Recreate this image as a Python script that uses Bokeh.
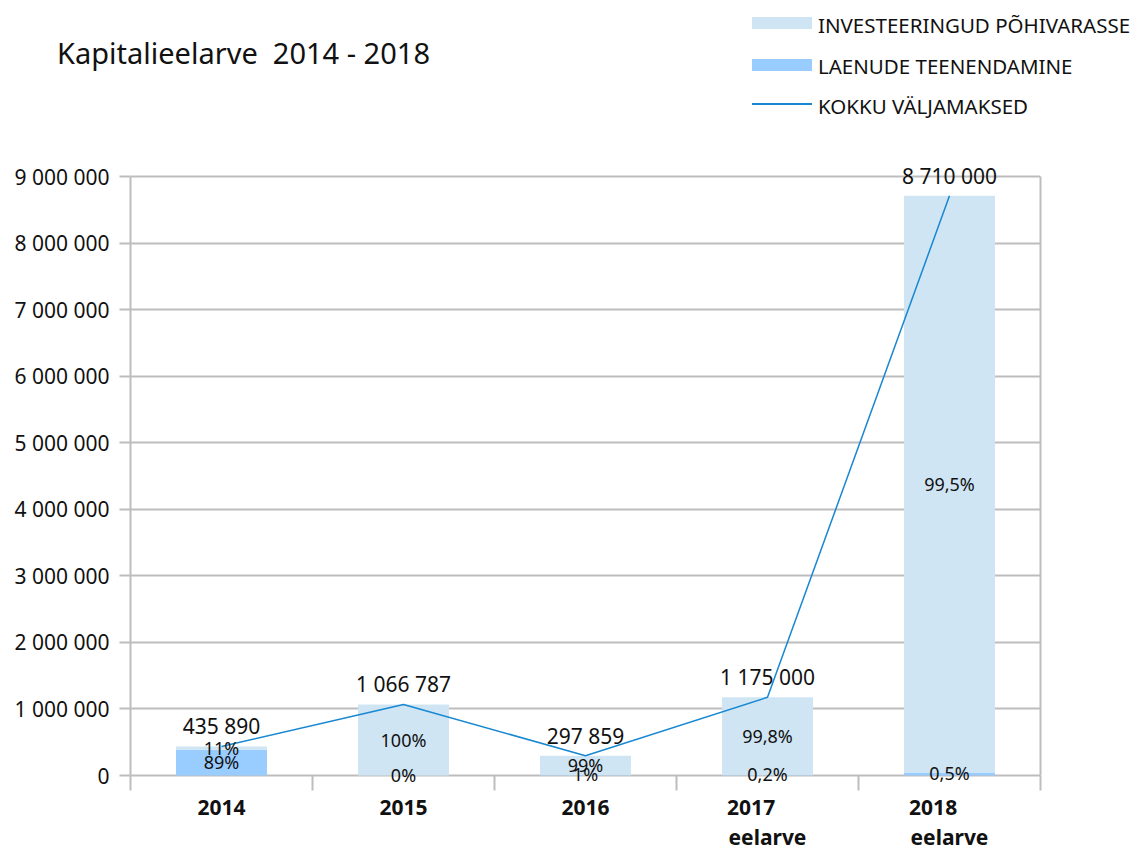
import numpy as np
from bokeh.plotting import figure
from bokeh.layouts import column
from bokeh.models import (Range1d, FixedTicker, ColumnDataSource, LabelSet, LinearAxis, Div)
from bokeh.embed import file_html
from bokeh.resources import INLINE
from bokeh.core.properties import value

# ---------------- data ----------------
title_text = "Kapitalieelarve  2014 - 2018"
categories = ["2014", "2015", "2016", "2017\neelarve", "2018\neelarve"]
totals = [435890, 1066787, 297859, 1175000, 8710000]          # KOKKU VÄLJAMAKSED
loans = [387942, 0, 2979, 2350, 43550]                          # LAENUDE TEENENDAMINE
invest_pct = ["11%", "100%", "99%", "99,8%", "99,5%"]
loans_pct = ["89%", "0%", "1%", "0,2%", "0,5%"]
series_names = ["INVESTEERINGUD PÕHIVARASSE", "LAENUDE TEENENDAMINE", "KOKKU VÄLJAMAKSED"]
y_ticks = [0, 1000000, 2000000, 3000000, 4000000, 5000000, 6000000, 7000000, 8000000, 9000000]

# ---------------- styling / layout ----------------
FONT = "Noto Sans"
C_INVEST = "#CFE5F4"
C_LOANS = "#99CCFF"
C_LINE = "#1787D2"
C_GRID = "#BDBDBD"
C_TEXT = "#111111"

W = 1136
HEADER_H = 120
FRAME_LEFT, FRAME_W, BORDER_RIGHT = 130, 910, 96
MAIN_TOP_GAP = 30            # frame top at page y = 150
Y_MAX = 9000000
PX_AXIS = 599                # pixels between 0 and Y_MAX
PAD_TOP, PAD_BOTTOM = 26, 10 # frame room above Y_MAX and below 0 (for labels)
ppu = PX_AXIS / Y_MAX
FRAME_H = PAD_TOP + PX_AXIS + PAD_BOTTOM
y_start = -PAD_BOTTOM / ppu
y_end = Y_MAX + PAD_TOP / ppu

n = len(categories)
xs = np.arange(n) + 0.5
totals_a = np.array(totals, dtype=float)
loans_a = np.array(loans, dtype=float)

src = ColumnDataSource(dict(
    x=xs, total=totals_a, loans=loans_a,
    inv_mid=(loans_a + totals_a) / 2, loan_mid=loans_a / 2,
    inv_pct=invest_pct, loan_pct=loans_pct,
    total_lbl=[f"{int(t):,}".replace(",", " ") for t in totals],
))

# ---------------- header (title + legend) as HTML ----------------
def _txt(left, top, size, text):
    return (f'<div style="position:absolute;left:{left}px;top:{top}px;font-size:{size}px;'
            f'line-height:{size}px;white-space:pre;color:{C_TEXT};">{text}</div>')

swatches = [
    f'<div style="position:absolute;left:752px;top:17px;width:60px;height:12px;background:{C_INVEST};"></div>',
    f'<div style="position:absolute;left:752px;top:59px;width:60px;height:12px;background:{C_LOANS};"></div>',
    f'<div style="position:absolute;left:752px;top:103px;width:60px;height:2px;background:{C_LINE};"></div>',
]
texts = [
    _txt(57, 38, 29, title_text),
    _txt(818, 15, 20.5, series_names[0]),
    _txt(818, 56, 20.5, series_names[1]),
    _txt(818, 96, 20.5, series_names[2]),
]
header_html = (f'<div style="position:relative;width:{W}px;height:{HEADER_H}px;'
               f'font-family:\'{FONT}\';background:white;">' + "".join(swatches + texts) + '</div>')
hdr = Div(text=header_html, width=W, height=HEADER_H, margin=0)

# ---------------- main chart ----------------
p = figure(frame_width=FRAME_W, frame_height=FRAME_H,
           x_range=Range1d(0, n), y_range=Range1d(y_start, y_end),
           output_backend="svg", toolbar_location=None,
           min_border_left=FRAME_LEFT, min_border_right=BORDER_RIGHT,
           min_border_top=MAIN_TOP_GAP, min_border_bottom=10)
p.outline_line_color = None
p.background_fill_color = "white"
p.border_fill_color = "white"

r_loans = p.vbar(x="x", width=0.5, bottom=0, top="loans", source=src,
                 fill_color=C_LOANS, line_color=None)
r_inv = p.vbar(x="x", width=0.5, bottom="loans", top="total", source=src,
               fill_color=C_INVEST, line_color=None)
r_line = p.line(x="x", y="total", source=src, line_color=C_LINE, line_width=1.5)

p.add_layout(LabelSet(x="x", y="inv_mid", text="inv_pct", source=src,
                      text_align="center", text_baseline="middle",
                      text_font=value(FONT), text_font_size="18px", text_color=C_TEXT))
p.add_layout(LabelSet(x="x", y="loan_mid", text="loan_pct", source=src, y_offset=1,
                      text_align="center", text_baseline="middle",
                      text_font=value(FONT), text_font_size="18px", text_color=C_TEXT))
p.add_layout(LabelSet(x="x", y="total", text="total_lbl", source=src, y_offset=20,
                      text_align="center", text_baseline="middle",
                      text_font=value(FONT), text_font_size="21px", text_color=C_TEXT))

# x axis: the zero grid line acts as the axis line; boundary ticks reach up to it
def _pad(label):
    lines = label.split("\n")
    if len(lines) == 2:
        lines[0] = lines[0] + "\u00a0" * 6
    return "\n".join(lines)

p.xaxis.ticker = FixedTicker(ticks=list(xs), minor_ticks=list(range(n + 1)))
p.xaxis.major_label_overrides = {float(x): _pad(c) for x, c in zip(xs, categories)}
p.xaxis.major_tick_out = 0
p.xaxis.major_tick_in = 0
p.xaxis.minor_tick_in = PAD_BOTTOM
p.xaxis.minor_tick_out = 5
p.xaxis.minor_tick_line_color = C_GRID
p.xaxis.minor_tick_line_width = 2
p.xaxis.axis_line_color = None
p.xaxis.major_label_standoff = 2
p.xaxis.major_label_text_font = FONT
p.xaxis.major_label_text_font_style = "bold"
p.xaxis.major_label_text_font_size = "21px"
p.xaxis.major_label_text_line_height = 1.1
p.xaxis.major_label_text_color = C_TEXT

# y axis
p.yaxis.ticker = FixedTicker(ticks=y_ticks)
p.yaxis.bounds = (0, Y_MAX)
p.yaxis.major_label_overrides = {t: f"{t:,}".replace(",", " ") for t in y_ticks}
p.yaxis.major_tick_out = 11
p.yaxis.major_tick_in = 0
p.yaxis.minor_tick_line_color = None
p.yaxis.major_tick_line_color = C_GRID
p.yaxis.major_tick_line_width = 2
p.yaxis.axis_line_color = C_GRID
p.yaxis.axis_line_width = 2
p.yaxis.major_label_standoff = 10
p.yaxis.major_label_text_font = FONT
p.yaxis.major_label_text_font_size = "21px"
p.yaxis.major_label_text_color = C_TEXT

# right border line
rax = LinearAxis(ticker=FixedTicker(ticks=[]), bounds=(0, Y_MAX),
                 axis_line_color=C_GRID, axis_line_width=2,
                 major_tick_line_color=None, minor_tick_line_color=None,
                 major_label_text_font_size="0px")
p.add_layout(rax, "right")

p.xgrid.visible = False
p.ygrid.ticker = FixedTicker(ticks=y_ticks)
p.ygrid.grid_line_color = C_GRID
p.ygrid.grid_line_width = 2

layout = column(hdr, p)
open("out.html", "w").write(file_html(layout, INLINE))
